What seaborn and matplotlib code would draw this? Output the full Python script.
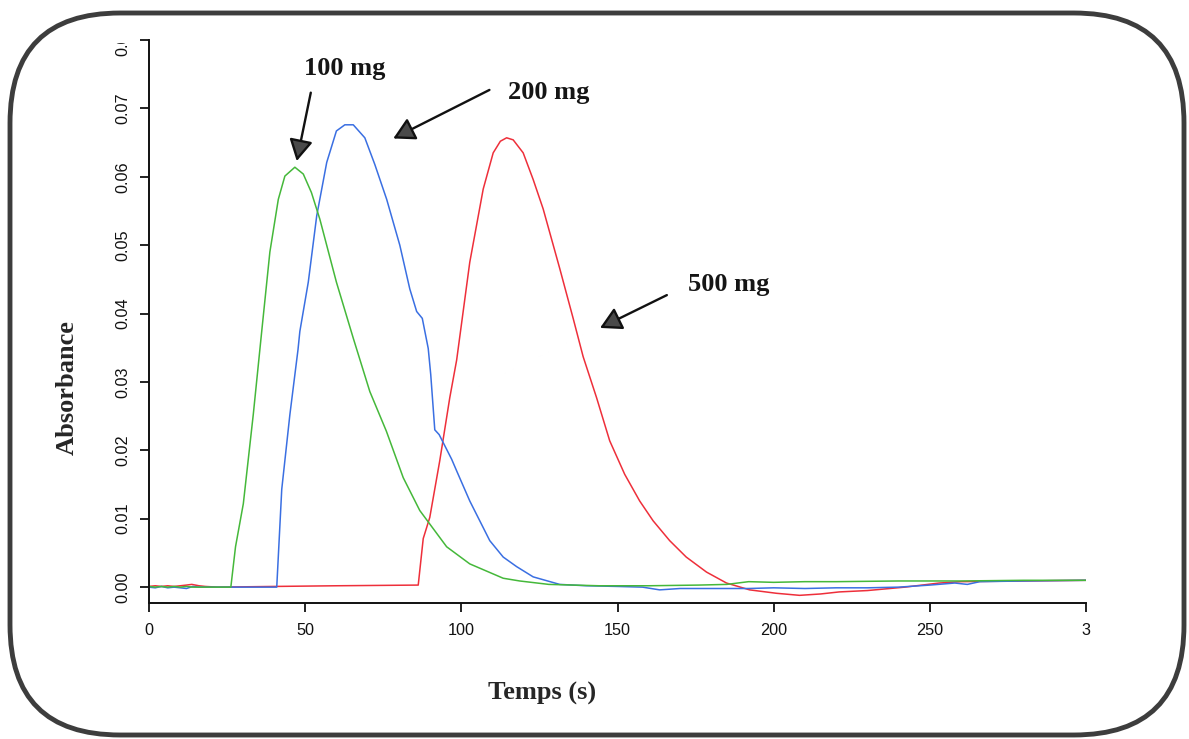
import numpy as np
import pandas as pd
import matplotlib
matplotlib.use("Agg")
import matplotlib.pyplot as plt
import matplotlib.transforms as mtransforms
from matplotlib.patches import FancyBboxPatch
import seaborn as sns

# ---------------- data ----------------
t_100 = [0, 2, 4, 6, 8, 10, 12, 14, 16, 18, 22, 26.2, 27.7, 30.2, 33.4, 36, 38.7, 41.4,
         43.5, 46.7, 49.4, 52, 54.7, 60, 65.4, 70.7, 76, 81.4, 86.7, 95.3, 102.7,
         113.4, 118.7, 128, 144, 160, 176, 185, 192, 200, 210, 220, 240, 260, 280, 300]
a_100 = [0.0001, 0.0000, 0.0001, 0.0000, 0.0001, 0.0000, 0.0001, 0.0000, 0.0000, 0.0000,
         0.0, 0.0, 0.0059, 0.0122, 0.0253, 0.0370, 0.0490, 0.0567,
         0.0601, 0.0614, 0.0604, 0.0577, 0.0538, 0.0446, 0.0364, 0.0286, 0.0228, 0.0160,
         0.0112, 0.0059, 0.0034, 0.0013, 0.0009, 0.0004, 0.0002, 0.0002, 0.0003, 0.0004,
         0.0008, 0.0007, 0.0008, 0.0008, 0.0009, 0.0009, 0.0010, 0.0010]

t_200 = [0, 2, 4, 6, 8, 10, 12, 14, 16, 18, 22, 30, 40.9, 42.5, 45.1, 47.7, 48.3, 51,
         53.7, 56.9, 60, 62.7, 65.4, 69.1, 72.3, 76.1, 80.3, 83.5, 85.7, 87.5, 89.4,
         90.2, 91.5, 92.9, 96.9, 98.5, 102.7, 109.1, 113.4, 117.7, 123, 131.5, 140, 150,
         158, 163.5, 170, 180, 192, 200, 210, 220, 230, 240, 250, 258, 262, 266, 280, 300]
a_200 = [0.0000, -0.0001, 0.0001, -0.0001, 0.0000, -0.0001, -0.0002, 0.0001, 0.0000, 0.0000,
         0.0, 0.0, 0.0, 0.0143, 0.0252, 0.0347, 0.0374, 0.0446,
         0.0543, 0.0621, 0.0667, 0.0676, 0.0676, 0.0657, 0.0618, 0.0567, 0.0500, 0.0436,
         0.0403, 0.0393, 0.0349, 0.0311, 0.0230, 0.0223, 0.0187, 0.0170, 0.0126, 0.0068,
         0.0044, 0.0030, 0.0015, 0.0004, 0.0002, 0.0001, 0.0000, -0.0004, -0.0002, -0.0002,
         -0.0002, -0.0001, -0.0002, -0.0001, -0.0001, 0.0000, 0.0003, 0.0006, 0.0004,
         0.0008, 0.0009, 0.0010]

t_500 = [0, 2, 4, 6, 8, 10, 12, 13.7, 16, 18, 22, 40, 60, 86.2, 87.8, 89.9, 93.1, 96.3,
         98.5, 102.7, 107, 110.2, 112.5, 114.5, 116.6, 119.8, 123, 126.2, 131.5, 135.8,
         139, 143.3, 147.5, 152.3, 157.1, 161.4, 166.7, 172, 178.5, 184.9, 192.3, 200.9,
         208.3, 215, 221, 230, 242, 253, 260, 280, 300]
a_500 = [0.0001, 0.0002, 0.0001, 0.0002, 0.0001, 0.0002, 0.0003, 0.0004, 0.0002, 0.0001,
         0.0, 0.0001, 0.0002, 0.0003, 0.0071, 0.0102, 0.0185, 0.0277,
         0.0332, 0.0475, 0.0582, 0.0635, 0.0652, 0.0657, 0.0654, 0.0635, 0.0596, 0.0553,
         0.0466, 0.0393, 0.0337, 0.0277, 0.0214, 0.0165, 0.0126, 0.0097, 0.0068, 0.0044,
         0.0022, 0.0006, -0.0004, -0.0009, -0.0012, -0.0010, -0.0007, -0.0005, 0.0000,
         0.0006, 0.0008, 0.0009, 0.0010]

doses = ["500 mg", "200 mg", "100 mg"]
colors = {"100 mg": "#45b83a", "200 mg": "#3a6fe2", "500 mg": "#ee2f3a"}

x_ticks = [0, 50, 100, 150, 200, 250, 300]
x_ticklabels = ["0", "50", "100", "150", "200", "250", "3"]
y_ticks = [0.00, 0.01, 0.02, 0.03, 0.04, 0.05, 0.06, 0.07, 0.08]
y_ticklabels = ["0.00", "0.01", "0.02", "0.03", "0.04", "0.05", "0.06", "0.07", "0.08"]

# annotations: (label, text position, arrow tail, arrow tip) in data units
annots = [
    ("100 mg", (62.8, 0.0758), (51.8, 0.0723), (47.3, 0.0623)),
    ("200 mg", (128.1, 0.0723), (109.0, 0.0727), (78.2, 0.0656)),
    ("500 mg", (185.7, 0.0443), (165.8, 0.0427), (144.4, 0.0379)),
]

df = pd.concat([
    pd.DataFrame({"t": t_100, "A": a_100, "dose": "100 mg"}),
    pd.DataFrame({"t": t_200, "A": a_200, "dose": "200 mg"}),
    pd.DataFrame({"t": t_500, "A": a_500, "dose": "500 mg"}),
], ignore_index=True)

# ---------------- plot ----------------
sns.set_style("ticks")
plt.rcParams["font.family"] = ["Liberation Sans", "DejaVu Sans"]

W, H = 1189, 739
fig = plt.figure(figsize=(W / 100, H / 100), dpi=100)
fig.patch.set_facecolor("white")
ax = fig.add_axes([149 / W, 1 - 603 / H, (1086 - 149) / W, (603 - 40) / H])

sns.lineplot(data=df, x="t", y="A", hue="dose", hue_order=doses, palette=colors,
             estimator=None, sort=False, legend=False, linewidth=1.1, ax=ax)

ax.set_xlim(0, 300)
ax.set_ylim(-0.00232, 0.07944)
for s in ["top", "right"]:
    ax.spines[s].set_visible(False)
for s in ["left", "bottom"]:
    ax.spines[s].set_linewidth(1.4)
    ax.spines[s].set_color("#111111")

ax.set_xticks(x_ticks, x_ticklabels)
ax.set_yticks(y_ticks, y_ticklabels)
ax.tick_params(axis="both", direction="out", length=6.5, width=1.3, colors="#111111",
               labelsize=11.7)
ax.tick_params(axis="x", pad=8)
ax.tick_params(axis="y", pad=7)
clip_top = mtransforms.TransformedBbox(
    mtransforms.Bbox([[0, 0], [W, H - 43]]), mtransforms.IdentityTransform())
for lab in ax.get_yticklabels():
    lab.set_rotation(90)
    lab.set_va("center")
    lab.set_ha("right")
    lab.set_clip_on(True)
    lab.set_clip_box(clip_top)

ax.set_xlabel("Temps (s)", family=["Liberation Serif", "DejaVu Serif"],
              fontweight="bold", fontsize=19)
ax.set_ylabel("Absorbance", family=["Liberation Serif", "DejaVu Serif"],
              fontweight="bold", fontsize=19)
ax.xaxis.label.set_va("baseline")
ax.xaxis.set_label_coords((542 - 149) / 936, (603 - 700) / 563)
ax.yaxis.label.set_va("baseline")
ax.yaxis.set_label_coords((74 - 149) / 937, (603 - 388) / 563)

for label, txy, tail, tip in annots:
    ax.text(txy[0], txy[1], label, family=["Liberation Serif", "DejaVu Serif"],
            fontweight="bold", fontsize=19, ha="center", va="center", color="#151515")
    ax.annotate("", xy=tip, xytext=tail,
                arrowprops=dict(arrowstyle="-|>,head_length=0.65,head_width=0.36",
                                mutation_scale=20, fc="#4a4a4a", ec="#111111",
                                lw=1.7, shrinkA=0, shrinkB=0))

frame = FancyBboxPatch((10, 4), 1174, 722,
                       boxstyle="round,pad=0,rounding_size=110",
                       transform=mtransforms.IdentityTransform(),
                       fill=False, ec="#3d3d3d", lw=3.5, zorder=10)
fig.add_artist(frame)

fig.savefig("out.png", dpi=100)
